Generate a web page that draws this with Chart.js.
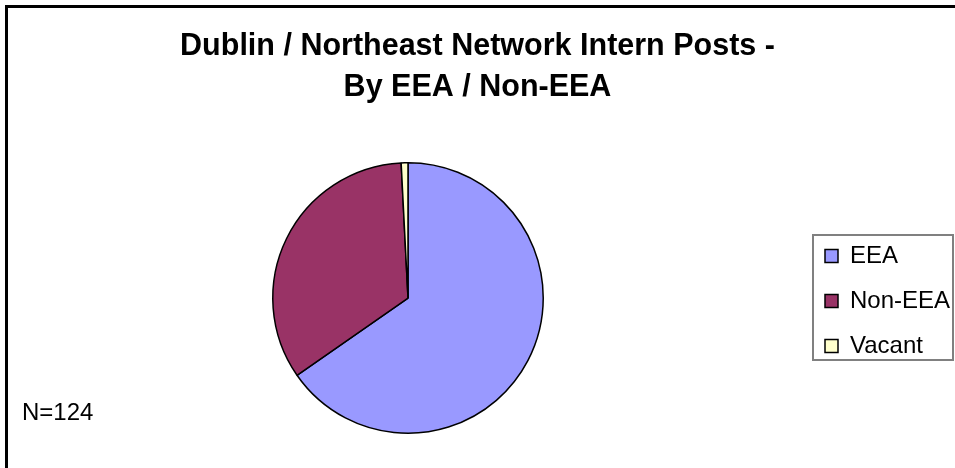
<!DOCTYPE html>
<html>
<head>
<meta charset="utf-8">
<script src="https://cdn.jsdelivr.net/npm/chart.js@4/dist/chart.umd.min.js"></script>
<style>
    html, body { margin: 0; padding: 0; background: #fff; }
    #wrap { width: 955px; height: 468px; }
</style>
</head>
<body>
<div id="wrap"><canvas id="myChart" width="955" height="468"></canvas></div>
<script>
const titleLines = ['Dublin / Northeast Network Intern Posts -', 'By EEA / Non-EEA'];
const categories = ['EEA', 'Non-EEA', 'Vacant'];
const posts = [81, 42, 1];
const sliceColors = ['#9999ff', '#993366', '#ffffcc'];
const noteText = 'N=124';

const fontFamily = 'Arial, "Liberation Sans", sans-serif';

// moves the legend to where the reference has it, draws its frame, the note and the outer frame
const framePlugin = {
    id: 'frame',
    afterLayout(chart) {
        const legend = chart.legend;
        // keep right edge at canvas edge so the legend clip does not cut the text
        legend.left = 804;
        const dy = 223 - legend.top;
        legend.top += dy;
        legend.bottom += dy;
    },
    afterDraw(chart) {
        const ctx = chart.ctx;
        ctx.save();
        // legend frame
        ctx.strokeStyle = '#808080';
        ctx.lineWidth = 2;
        ctx.strokeRect(813, 235, 140, 125);
        // outer frame
        ctx.strokeStyle = '#000';
        ctx.lineWidth = 3;
        ctx.beginPath();
        ctx.moveTo(6.5, 470);
        ctx.lineTo(6.5, 6.5);
        ctx.lineTo(960, 6.5);
        ctx.stroke();
        // note
        ctx.fillStyle = '#000';
        ctx.font = '24px ' + fontFamily;
        ctx.textBaseline = 'alphabetic';
        ctx.textAlign = 'left';
        ctx.fillText(noteText, 22, 420);
        ctx.restore();
    }
};

Chart.defaults.color = '#000';
Chart.defaults.font.family = fontFamily;

new Chart(document.getElementById('myChart'), {
    type: 'pie',
    data: {
        labels: categories,
        datasets: [{
            data: posts,
            backgroundColor: sliceColors,
            borderColor: '#000',
            borderWidth: 1.5
        }]
    },
    options: {
        responsive: false,
        animation: false,
        layout: {
            padding: { top: 0, left: 0, right: 0, bottom: 34 }
        },
        plugins: {
            title: {
                display: true,
                text: titleLines,
                color: '#000',
                font: { size: 30.5, weight: 'bold', lineHeight: 1.345 },
                padding: { top: 26, bottom: 54 }
            },
            legend: {
                position: 'right',
                align: 'start',
                maxWidth: 139,
                labels: {
                    boxWidth: 13,
                    boxHeight: 13,
                    padding: 21,
                    color: '#000',
                    font: { size: 24 }
                }
            },
            tooltip: { enabled: false }
        }
    },
    plugins: [framePlugin]
});
</script>
</body>
</html>
